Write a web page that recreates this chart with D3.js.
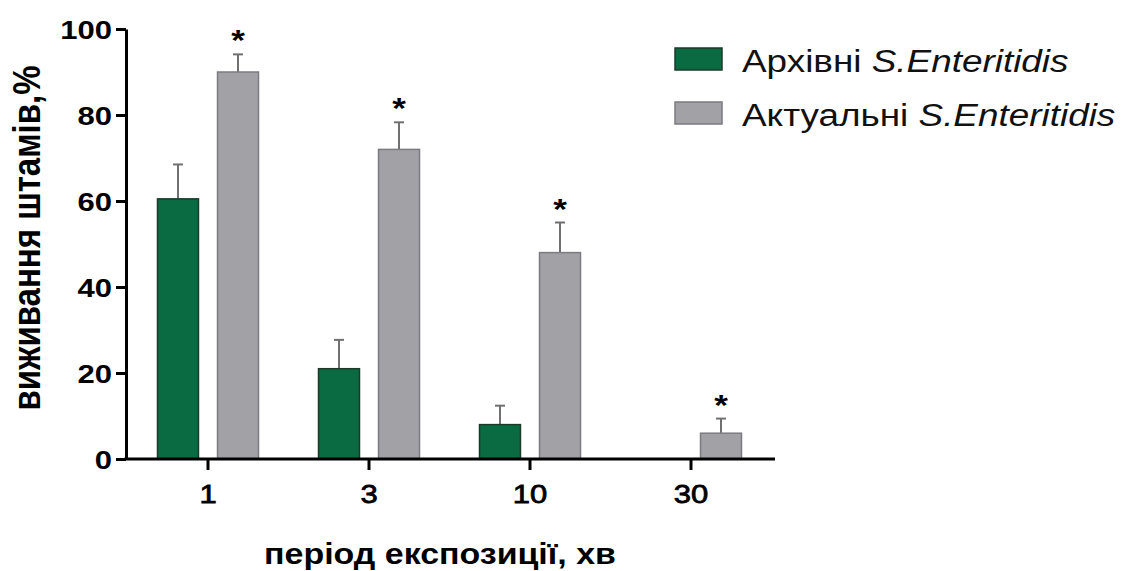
<!DOCTYPE html>
<html>
<head>
<meta charset="utf-8">
<script src="https://cdn.jsdelivr.net/npm/d3@7"></script>
<style>
  body { margin: 0; background: #fff; }
  svg { display: block; font-family: 'Liberation Sans', Arial, sans-serif; }
</style>
</head>
<body>
<svg id="chart" width="1121" height="571"></svg>
<script>
// exposure period, minutes
const categories = ['1', '3', '10', '30'];
const seriesNames = ['Архівні', 'Актуальні'];
// survival of strains, %
const archival = [60.5, 21, 8, 0];
const archivalErr = [8, 6.7, 4.4, 0];
const current = [90, 72, 48, 6];
const currentErr = [4.1, 6.3, 7, 3.4];
const significant = [true, true, true, true];
const yTicks = [0, 20, 40, 60, 80, 100];

const colors = { 'Архівні': '#0a6a41', 'Актуальні': '#a1a1a6' };
const strokes = { 'Архівні': '#1c3a2a', 'Актуальні': '#7b7b80' };
const SX = 1.17; // source picture is stretched horizontally

const svg = d3.select('#chart');

const x = d3.scaleBand().domain(categories).range([127.5, 771.5]).padding(0);
const inner = d3.scaleBand().domain(seriesNames).range([30, 131]).paddingInner(0.317).paddingOuter(0);
const y = d3.scaleLinear().domain([0, 100]).range([459, 29]);

const rows = categories.map((c, i) => ({
  cat: c,
  bars: [
    { s: 'Архівні', v: archival[i], e: archivalErr[i], star: false },
    { s: 'Актуальні', v: current[i], e: currentErr[i], star: significant[i] },
  ],
}));

const groups = svg.selectAll('g.grp').data(rows).enter().append('g')
  .attr('class', 'grp')
  .attr('transform', (d) => `translate(${x(d.cat) + (x.bandwidth() - 161) / 2},0)`);

const bars = groups.selectAll('g.bar').data((d) => d.bars.filter((b) => b.v > 0)).enter().append('g');

// error bars (upward only)
bars.append('line')
  .attr('x1', (d) => inner(d.s) + inner.bandwidth() / 2)
  .attr('x2', (d) => inner(d.s) + inner.bandwidth() / 2)
  .attr('y1', (d) => y(d.v))
  .attr('y2', (d) => y(d.v + d.e))
  .attr('stroke', '#707070').attr('stroke-width', 2);
bars.append('line')
  .attr('x1', (d) => inner(d.s) + inner.bandwidth() / 2 - 5)
  .attr('x2', (d) => inner(d.s) + inner.bandwidth() / 2 + 5)
  .attr('y1', (d) => y(d.v + d.e))
  .attr('y2', (d) => y(d.v + d.e))
  .attr('stroke', '#707070').attr('stroke-width', 2);

bars.append('rect')
  .attr('x', (d) => inner(d.s))
  .attr('width', inner.bandwidth())
  .attr('y', (d) => y(d.v))
  .attr('height', (d) => y(0) - y(d.v))
  .attr('fill', (d) => colors[d.s])
  .attr('stroke', (d) => strokes[d.s])
  .attr('stroke-width', 1.5);

bars.filter((d) => d.star).append('text')
  .attr('transform', (d) => `translate(${inner(d.s) + inner.bandwidth() / 2},${y(d.v + d.e) - 4}) scale(${SX},1)`)
  .attr('text-anchor', 'middle')
  .style('font-size', '30px').style('font-weight', 'bold')
  .text('*');

// y axis
const yAxis = svg.append('g').attr('transform', 'translate(126,0)')
  .call(d3.axisLeft(y).tickValues(yTicks).tickSize(10).tickPadding(7).tickSizeOuter(0));
yAxis.select('.domain').attr('stroke', '#000').attr('stroke-width', 3);
yAxis.selectAll('.tick line').attr('stroke', '#000').attr('stroke-width', 3);
yAxis.selectAll('.tick text')
  .attr('x', null).attr('dy', null)
  .attr('transform', `translate(-14,9.5) scale(${SX},1)`)
  .style('font-size', '26.5px').style('font-weight', 'bold').attr('fill', '#000');

// x axis
const xAxis = svg.append('g').attr('transform', 'translate(0,459)')
  .call(d3.axisBottom(x).tickSize(11).tickPadding(13).tickSizeOuter(0));
xAxis.select('.domain').remove();
xAxis.selectAll('.tick line').attr('stroke', '#000').attr('stroke-width', 3);
xAxis.selectAll('.tick text')
  .attr('y', null).attr('dy', null)
  .attr('transform', `translate(0,44) scale(${SX},1)`)
  .style('font-size', '26.5px').attr('fill', '#000')
  .attr('stroke', '#000').attr('stroke-width', 0.8);
xAxis.append('line').attr('x1', 124.5).attr('x2', 775).attr('y1', 0).attr('y2', 0)
  .attr('stroke', '#000').attr('stroke-width', 3);

// axis titles
svg.append('text')
  .attr('transform', `translate(440,564) scale(${SX},1)`)
  .attr('text-anchor', 'middle')
  .style('font-size', '29px').style('font-weight', 'bold')
  .text('період експозиції, хв');

svg.append('text')
  .attr('transform', `translate(40,238) rotate(-90) scale(1,${SX})`)
  .attr('text-anchor', 'middle')
  .style('font-size', '33px').style('font-weight', 'bold')
  .text('виживання штамів,%');

// legend
const legend = svg.append('g').selectAll('g').data(seriesNames).enter().append('g')
  .attr('transform', (d, i) => `translate(675,${48 + i * 54})`);
legend.append('rect').attr('width', 47).attr('height', 22)
  .attr('fill', (d) => colors[d]).attr('stroke', (d) => strokes[d]).attr('stroke-width', 1.5);
const lt = legend.append('text')
  .attr('transform', 'translate(67,23.5) scale(1.19,1)')
  .style('font-size', '31px').attr('fill', '#111');
lt.append('tspan').text((d) => d + ' ');
lt.append('tspan').style('font-style', 'italic').text('S.Enteritidis');
</script>
</body>
</html>
